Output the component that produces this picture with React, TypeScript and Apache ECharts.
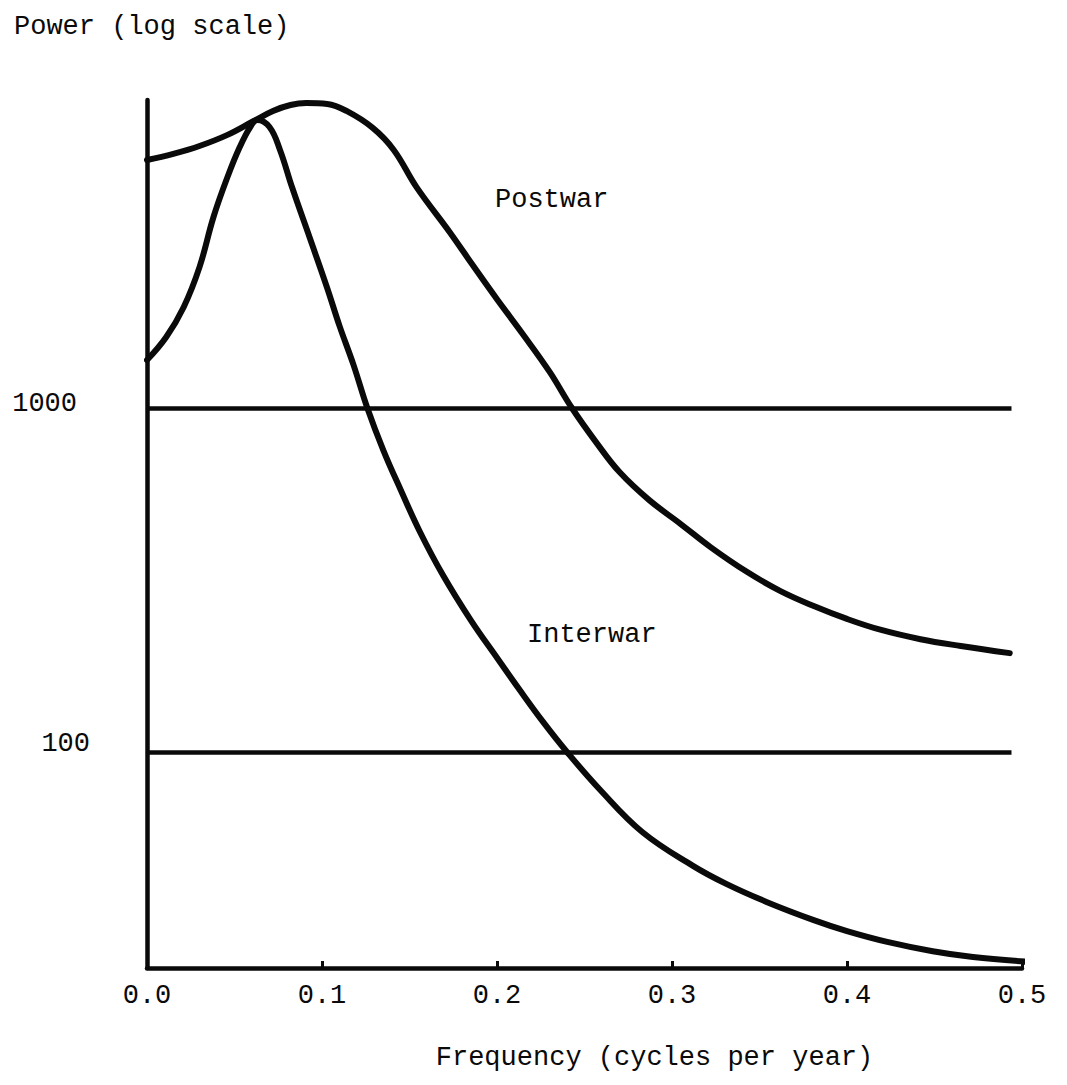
import React, { useEffect, useRef } from "react";
import * as echarts from "echarts";

// ---- data ----
const postwarFreq = [0, 0.015, 0.03, 0.046, 0.061, 0.072, 0.082, 0.091, 0.103, 0.114, 0.129, 0.141, 0.154, 0.173, 0.186, 0.2, 0.215, 0.23, 0.243, 0.257, 0.27, 0.287, 0.305, 0.322, 0.343, 0.362, 0.381, 0.4, 0.419, 0.442, 0.465, 0.493];
const postwarPower = [5290, 5510, 5810, 6260, 6870, 7350, 7650, 7750, 7700, 7350, 6560, 5660, 4410, 3260, 2620, 2080, 1640, 1280, 1000, 793, 653, 541, 461, 395, 334, 294, 266, 244, 227, 213, 203.5, 194];

const interwarFreq = [0, 0.011, 0.021, 0.03, 0.038, 0.046, 0.053, 0.059, 0.063, 0.07, 0.076, 0.083, 0.093, 0.103, 0.11, 0.118, 0.126, 0.135, 0.145, 0.156, 0.169, 0.185, 0.2, 0.213, 0.226, 0.24, 0.259, 0.283, 0.312, 0.331, 0.354, 0.381, 0.4, 0.423, 0.449, 0.472, 0.503];
const interwarPower = [1384, 1615, 1975, 2580, 3610, 4720, 5770, 6600, 6920, 6600, 5660, 4390, 3140, 2240, 1740, 1340, 1000, 757, 579, 437, 328, 242, 188, 151.5, 123, 100, 77.5, 58.5, 46.6, 41.3, 36.6, 32.4, 30.1, 28, 26.3, 25.3, 24.5];

const seriesNames = ["Postwar", "Interwar"];
const yLabelValues = [100, 1000];
const refLevels = [100, 1000];
const refLineEnd = 0.494;
const xMin = 0;
const xMax = 0.5;
const xStep = 0.1;
const yMin = 23.5;
const yMax = 7910;

const titleText = "Power (log scale)";
const xAxisTitle = "Frequency (cycles per year)";

const FONT = "'Liberation Mono', 'DejaVu Sans Mono', monospace";
const INK = "#0a0a0a";

function pairs(xs: number[], ys: number[]) {
  return xs.map((x, i) => [x, ys[i]]);
}

export default function App() {
  const ref = useRef<HTMLDivElement>(null);

  useEffect(() => {
    if (!ref.current) return;
    const chart = echarts.init(ref.current, undefined, { renderer: "svg" });

    const option: any = {
      animation: false,
      backgroundColor: "#ffffff",
      title: {
        text: titleText,
        left: 9,
        top: 8,
        textStyle: { fontFamily: FONT, fontSize: 27, fontWeight: "normal", color: INK },
      },
      grid: { left: 147, top: 100, width: 875, height: 868, containLabel: false },
      xAxis: {
        type: "value",
        min: xMin,
        max: xMax,
        interval: xStep,
        name: xAxisTitle,
        nameLocation: "middle",
        nameGap: 76,
        nameTextStyle: {
          fontFamily: FONT,
          fontSize: 27,
          color: INK,
          padding: [0, 0, 0, 140],
        },
        axisLine: { show: true, lineStyle: { color: INK, width: 4.5 } },
        axisTick: { show: true, inside: true, length: 7, lineStyle: { color: INK, width: 3 } },
        axisLabel: {
          fontFamily: FONT,
          fontSize: 27,
          color: INK,
          margin: 14,
          formatter: (v: number) => v.toFixed(1),
        },
        splitLine: { show: false },
      },
      yAxis: {
        type: "log",
        min: yMin,
        max: yMax,
        logBase: 10,
        axisLine: { show: true, lineStyle: { color: INK, width: 4.5 } },
        axisTick: { show: false },
        splitLine: { show: false },
        axisLabel: {
          fontFamily: FONT,
          fontSize: 27,
          color: INK,
          margin: 57,
          align: "right",
          showMinLabel: false,
          showMaxLabel: false,
          formatter: (v: number) => {
            if (Math.abs(v - yLabelValues[1]) < 1e-6 * yLabelValues[1]) return "{a|" + yLabelValues[1] + "}";
            if (Math.abs(v - yLabelValues[0]) < 1e-6 * yLabelValues[0]) return "{b|" + yLabelValues[0] + "}";
            return "";
          },
          rich: {
            a: { fontFamily: FONT, fontSize: 27, color: INK, padding: [0, 13, 9, 0] },
            b: { fontFamily: FONT, fontSize: 27, color: INK, padding: [0, 0, 16, 0] },
          },
        },
      },
      graphic: [
        {
          type: "text",
          left: 495,
          top: 186,
          style: { text: seriesNames[0], font: "27px " + FONT, fill: INK },
        },
        {
          type: "text",
          left: 527,
          top: 621,
          style: { text: seriesNames[1], font: "27px " + FONT, fill: INK },
        },
      ],
      series: [
        {
          name: seriesNames[0],
          type: "line",
          data: pairs(postwarFreq, postwarPower),
          smooth: 0.4,
          showSymbol: false,
          symbol: "none",
          clip: false,
          lineStyle: { color: INK, width: 6, cap: "round", join: "round" },
          markLine: {
            silent: true,
            symbol: "none",
            label: { show: false },
            lineStyle: { color: INK, width: 4.5, type: "solid" },
            data: refLevels.map((lv) => [
              { coord: [xMin, lv] },
              { coord: [refLineEnd, lv] },
            ]),
          },
        },
        {
          name: seriesNames[1],
          type: "line",
          data: pairs(interwarFreq, interwarPower),
          smooth: 0.4,
          showSymbol: false,
          symbol: "none",
          clip: false,
          lineStyle: { color: INK, width: 6, cap: "round", join: "round" },
        },
      ],
    };

    chart.setOption(option);
    return () => chart.dispose();
  }, []);

  return (
    <div
      ref={ref}
      style={{ position: "absolute", left: 0, top: 0, width: 1067, height: 1085, background: "#fff" }}
    />
  );
}
